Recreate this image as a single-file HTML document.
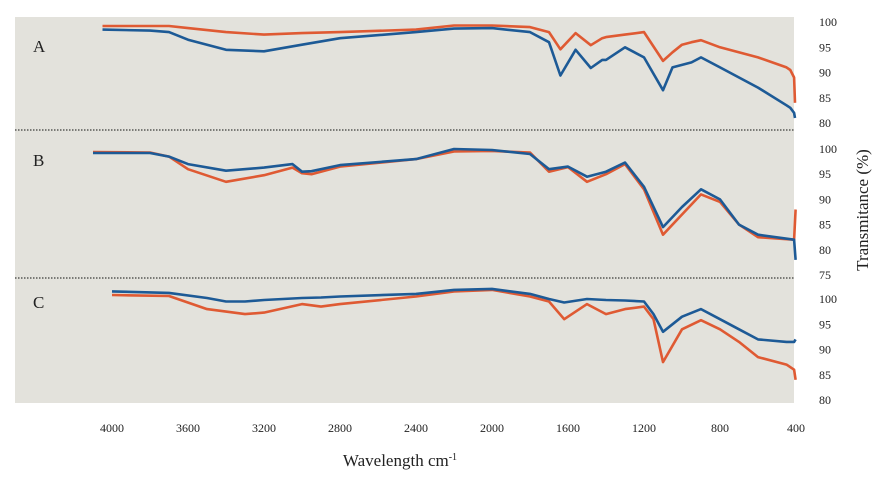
<!DOCTYPE html>
<html><head><meta charset="utf-8"><style>
body{margin:0;background:#fff;width:886px;height:483px;overflow:hidden}
svg text{font-family:"Liberation Serif",serif;fill:#222}
</style></head><body>
<svg width="886" height="483" id="chart">
<rect x="15" y="17" width="779" height="386" fill="#e3e2dc"/>
<line x1="15" y1="130" x2="794" y2="130" stroke="#111" stroke-dasharray="1.5,1.5"/>
<line x1="15" y1="278" x2="794" y2="278" stroke="#111" stroke-dasharray="1.5,1.5"/>
<text x="33" y="52" font-size="17">A</text>
<text x="33" y="166" font-size="17">B</text>
<text x="33" y="308" font-size="17">C</text>
<text x="400" y="466" font-size="17" text-anchor="middle">Wavelength cm<tspan font-size="10" dy="-6">-1</tspan></text>
<text transform="translate(868,210) rotate(-90)" font-size="17" text-anchor="middle">Transmitance (%)</text>
<g id="marks"></g>
</svg>
<script>
const xTicks=[4000,3600,3200,2800,2400,2000,1600,1200,800,400];
const aWn=[4050,3800,3700,3600,3400,3200,3000,2800,2400,2200,2000,1800,1700,1640,1560,1480,1420,1400,1300,1200,1100,1050,1000,950,900,800,600,450,430,410,405];
const aOrange=[99.2,99.2,99.2,98.8,98,97.5,97.8,98,98.5,99.3,99.3,99,98,94.6,97.8,95.4,96.8,97,97.5,98,92.3,94,95.5,96,96.4,95,93,91,90.5,89,84];
const aBlue=[98.5,98.3,98,96.5,94.5,94.2,95.5,96.8,98,98.7,98.8,98,96,89.4,94.5,90.9,92.5,92.5,95,93,86.5,91,91.5,92,93,91,87,83.5,83,82,81];
const bWn=[4100,3800,3700,3600,3400,3200,3050,3000,2950,2800,2400,2200,2000,1800,1700,1600,1500,1400,1300,1200,1100,1000,900,800,700,600,410,402];
const bOrange=[99.4,99.3,98.5,96,93.5,94.8,96.3,95.2,95,96.5,98,99.5,99.6,99.3,95.5,96.4,93.5,95,97,92,83,87,91,89.5,85,82.5,82,88];
const bBlue=[99.2,99.2,98.5,97,95.7,96.3,97,95.5,95.6,96.8,98,100,99.8,99,96,96.5,94.5,95.5,97.3,92.5,84.5,88.5,92,90,85,83,82,78];
const cWn=[4000,3700,3500,3400,3300,3200,3000,2900,2800,2400,2200,2000,1800,1700,1620,1500,1400,1300,1200,1150,1100,1000,900,800,700,600,450,410,402];
const cOrange=[100.8,100.6,98,97.5,97,97.3,99,98.5,99,100.5,101.5,101.8,100.5,99.5,96,99,97,98,98.5,96,87.5,94,95.8,94,91.5,88.5,87,86,84];
const cBlue=[101.5,101.2,100.2,99.5,99.5,99.8,100.2,100.3,100.5,101,101.8,102,101,100,99.3,100,99.8,99.7,99.5,97,93.5,96.5,98,96,94,92,91.5,91.5,92];
const aTicks=[100,95,90,85,80], bTicks=[100,95,90,85,80,75], cTicks=[100,95,90,85,80];
const NS="http://www.w3.org/2000/svg";
const g=document.getElementById('marks');
function xs(w){return 112+(4000-w)*(684/3600);}
function yA(v){return 22+(100-v)*5.05;}
function yB(v){return 149+(100-v)*5.04;}
function yC(v){return 299+(100-v)*5.05;}
function line(wn,vals,ys,color,name){
  const p=document.createElementNS(NS,'polyline');
  p.setAttribute('points',wn.map((w,i)=>xs(w).toFixed(1)+','+ys(vals[i]).toFixed(1)).join(' '));
  p.setAttribute('fill','none');p.setAttribute('stroke',color);p.setAttribute('stroke-width','2.6');p.setAttribute('stroke-linejoin','round');
  
  
  g.appendChild(p);
}
line(aWn,aOrange,yA,'#df5a33','series-a-orange');
line(aWn,aBlue,yA,'#1d5a96','series-a-blue');
line(bWn,bOrange,yB,'#df5a33','series-b-orange');
line(bWn,bBlue,yB,'#1d5a96','series-b-blue');
line(cWn,cOrange,yC,'#df5a33','series-c-orange');
line(cWn,cBlue,yC,'#1d5a96','series-c-blue');
function txt(x,y,s,anchor,name){
  const t=document.createElementNS(NS,'text');
  t.setAttribute('x',x);t.setAttribute('y',y);t.setAttribute('font-size','12');t.setAttribute('text-anchor',anchor);
  t.textContent=s;
  
  
  g.appendChild(t);
}
xTicks.forEach(w=>txt(xs(w),432,String(w),'middle','x-tick-label'));
aTicks.forEach(v=>txt(819,yA(v)+4,String(v),'start','y-tick-label-a'));
bTicks.forEach(v=>txt(819,yB(v)+4,String(v),'start','y-tick-label-b'));
cTicks.forEach(v=>txt(819,yC(v)+4,String(v),'start','y-tick-label-c'));
</script>
</body></html>
